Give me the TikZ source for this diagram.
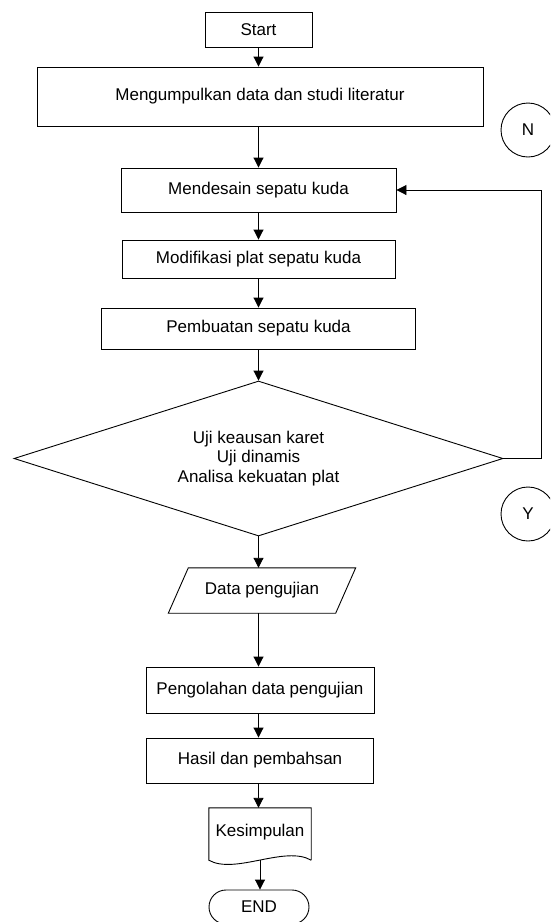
\documentclass[tikz,border=0pt]{standalone}
\usepackage{fontspec}
\setmainfont{Liberation Sans}
\usetikzlibrary{arrows.meta,shapes.geometric,calc}
\begin{document}
\begin{tikzpicture}[x=1pt,y=-1pt,
  every node/.style={font=\fontsize{17}{19.5}\selectfont},
  ln/.style={line width=0.9pt},
  box/.style={draw, ln, rectangle, inner sep=0pt, anchor=center},
  arr/.style={ln, -{Triangle[width=10pt,length=10pt]}},
]
\clip (0,0) rectangle (550,922);
\useasboundingbox (0,0) rectangle (550,922);
\fill[white] (0,0) rectangle (550,922);

\node[box, minimum width=107, minimum height=35] (start) at (258.5,29.5) {Start};
\node[box, minimum width=446, minimum height=59] (collect) at (260,96.5) {Mengumpulkan data dan studi literatur};
\node[box, minimum width=275, minimum height=44] (design) at (258.5,190) {Mendesain sepatu kuda};
\node[box, minimum width=273, minimum height=38] (modif) at (258.5,259) {Modifikasi plat sepatu kuda};
\node[box, minimum width=314, minimum height=41] (build) at (258.5,328.5) {Pembuatan sepatu kuda};
\node[draw, ln, diamond, aspect=3, inner sep=0pt, minimum width=489, minimum height=155, align=center] (test) at (258.5,458.5) {Uji keausan karet\\Uji dinamis\\Analisa kekuatan plat};

\node[inner sep=0pt, minimum width=167, minimum height=45] (data) at (262,590.5) {Data pengujian};
\draw[ln] ($(data.north west)+(10,0)$) -- ($(data.north east)+(10,0)$) -- ($(data.south east)+(-10,0)$) -- ($(data.south west)+(-10,0)$) -- cycle;

\node[box, minimum width=228, minimum height=46] (proc) at (260,690) {Pengolahan data pengujian};
\node[box, minimum width=227, minimum height=45] (hasil) at (260,760.5) {Hasil dan pembahsan};

\node[inner sep=0pt, minimum width=102, minimum height=52] (doc) at (260,834) {};
\node at (260,832) {Kesimpulan};
\draw[ln] (doc.south east) -- (doc.north east) -- (doc.north west) -- (doc.south west)
  .. controls (235,875) and (285,845) .. (doc.south east);

\node[draw, ln, rounded corners=17pt, minimum width=100, minimum height=34, inner sep=0pt] (end) at (259,907) {END};

\node[draw, ln, circle, minimum size=54, inner sep=0pt] (N) at (528,130) {N};
\node[draw, ln, circle, minimum size=54, inner sep=0pt] (Y) at (528,514) {Y};

\coordinate (fb) at (541,458.5);

\draw[arr] (start.south) -- (start.south |- collect.north);
\draw[arr] (start.south |- collect.south) -- (start.south |- design.north);
\draw[arr] (design.south) -- (design.south |- modif.north);
\draw[arr] (modif.south) -- (modif.south |- build.north);
\draw[arr] (build.south) -- (test.north);
\draw[arr] (test.south) -- (test.south |- data.north);
\draw[arr] (test.south |- data.south) -- (test.south |- proc.north);
\draw[arr] (test.south |- proc.south) -- (test.south |- hasil.north);
\draw[arr] (test.south |- hasil.south) -- (test.south |- doc.north);
\draw[arr] (doc.south) -- (doc.south |- end.north);
\draw[arr] (test.east) -- (fb) |- (design.east);
\end{tikzpicture}
\end{document}
